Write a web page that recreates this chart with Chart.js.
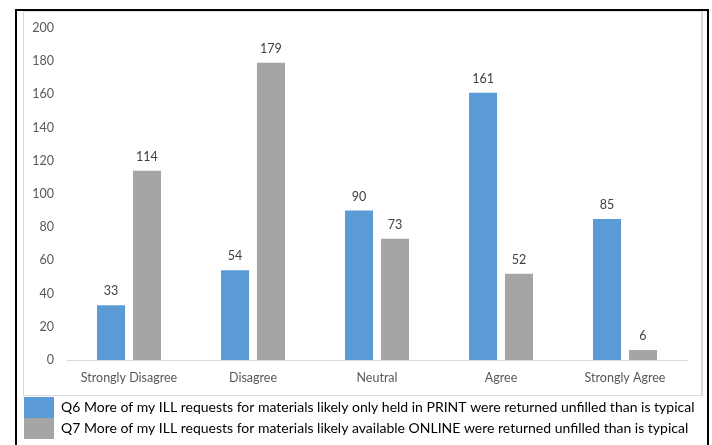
<!DOCTYPE html>
<html>
<head>
<meta charset="utf-8">
<script src="https://cdn.jsdelivr.net/npm/chart.js@4.4.1/dist/chart.umd.min.js"></script>
<style>
  html, body { margin: 0; padding: 0; background: #fff; overflow: hidden; width: 712px; height: 445px; }
  #wrap { position: relative; width: 712px; height: 445px; overflow: hidden; }
  #chart { position: absolute; left: 0; top: 0; }
  .frame { position: absolute; left: 15px; top: 9px; width: 690px; height: 470px; border: 2px solid #000; pointer-events: none; }
  .plotbox { position: absolute; left: 23px; top: 11px; width: 677px; height: 383px; border: 1px solid #d9d9d9; border-right-width: 2px; pointer-events: none; }
</style>
</head>
<body>
<div id="wrap">
  <canvas id="chart" width="712" height="449"></canvas>
  <div class="plotbox"></div>
  <div class="frame"></div>
</div>
<script>
// Survey response categories
const categories = ['Strongly Disagree', 'Disagree', 'Neutral', 'Agree', 'Strongly Agree'];

// Series names
const q6Label = 'Q6 More of my ILL requests for materials likely only held in PRINT were returned unfilled than is typical';
const q7Label = 'Q7 More of my ILL requests for materials likely available ONLINE were returned unfilled than is typical';

// Response counts
const q6Values = [33, 54, 90, 161, 85];
const q7Values = [114, 179, 73, 52, 6];

// Value axis ticks
const yTickValues = [0, 20, 40, 60, 80, 100, 120, 140, 160, 180, 200];

const FONT = 'Lato, "Open Sans", sans-serif';

// Writes each bar's count just above it
const valueLabels = {
  id: 'valueLabels',
  afterDatasetsDraw(chart) {
    const ctx = chart.ctx;
    ctx.save();
    ctx.font = '12.5px ' + FONT;
    ctx.fillStyle = '#404040';
    ctx.textAlign = 'center';
    ctx.textBaseline = 'middle';
    chart.data.datasets.forEach((ds, i) => {
      chart.getDatasetMeta(i).data.forEach((bar, j) => {
        ctx.fillText(String(ds.data[j]), bar.x, bar.y - 14);
      });
    });
    ctx.restore();
  }
};

new Chart(document.getElementById('chart'), {
  type: 'bar',
  data: {
    labels: categories,
    datasets: [
      {
        label: q6Label,
        data: q6Values,
        backgroundColor: '#5b9bd5',
        borderWidth: 0,
        categoryPercentage: 0.58,
        barPercentage: 0.78
      },
      {
        label: q7Label,
        data: q7Values,
        backgroundColor: '#a5a5a5',
        borderWidth: 0,
        categoryPercentage: 0.58,
        barPercentage: 0.78
      }
    ]
  },
  options: {
    responsive: false,
    animation: false,
    devicePixelRatio: 1,
    layout: { padding: { left: 24, right: 0, top: 28, bottom: 0 } },
    plugins: {
      tooltip: { enabled: false },
      legend: {
        position: 'bottom',
        align: 'start',
        labels: {
          boxWidth: 30,
          boxHeight: 21,
          padding: 0,
          color: '#000',
          font: { family: FONT, size: 14 }
        }
      }
    },
    scales: {
      x: {
        grid: { display: false, drawTicks: false },
        border: { display: true, color: '#d9d9d9', width: 1 },
        ticks: { color: '#595959', padding: 10, font: { family: FONT, size: 12.5 }, maxRotation: 0 },
        afterFit(scale) { scale.height = 37; }
      },
      y: {
        min: 0,
        max: 200,
        grid: { display: false, drawTicks: false },
        border: { display: false },
        ticks: { color: '#595959', padding: 13, font: { family: FONT, size: 12.5 } },
        afterBuildTicks(scale) { scale.ticks = yTickValues.map(v => ({ value: v })); },
        afterFit(scale) { scale.width = 43; }
      },
      // empty margin on the right of the plot, so the legend can use the full width
      rightMargin: {
        type: 'linear',
        position: 'right',
        grid: { display: false, drawTicks: false },
        border: { display: false },
        ticks: { display: false },
        afterFit(scale) { scale.width = 25; }
      }
    }
  },
  plugins: [valueLabels]
});
</script>
</body>
</html>
